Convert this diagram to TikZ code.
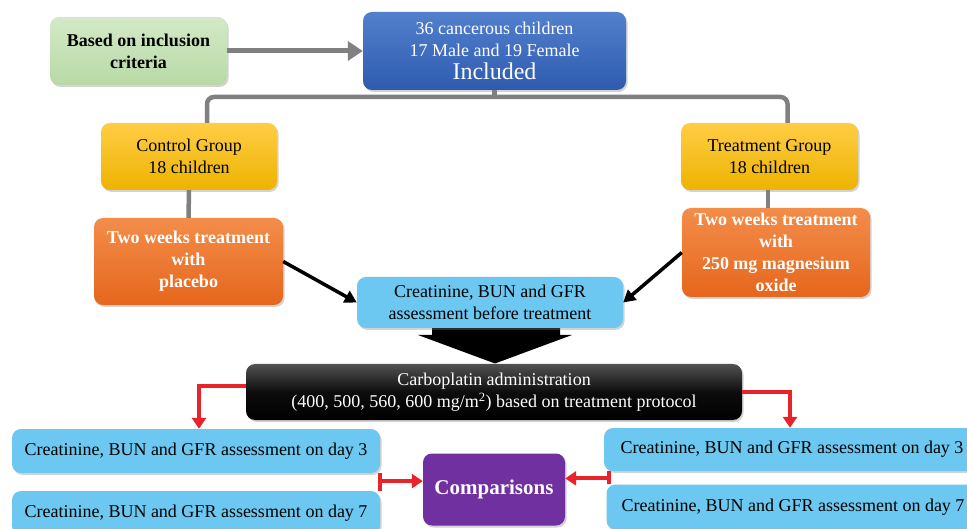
\documentclass[tikz,border=0pt]{standalone}
\usepackage{fontspec}
\setmainfont{Liberation Serif}
\usetikzlibrary{shadows,arrows.meta,calc}
\definecolor{grn1}{HTML}{D3E9C8}
\definecolor{grn2}{HTML}{B8DAA6}
\definecolor{blu1}{HTML}{5280CC}
\definecolor{blu2}{HTML}{2E5BAF}
\definecolor{gld1}{HTML}{FFCD45}
\definecolor{gld2}{HTML}{EDB300}
\definecolor{org1}{HTML}{F38D4A}
\definecolor{org2}{HTML}{E6661C}
\definecolor{lblu}{HTML}{6CC8F0}
\definecolor{purp}{HTML}{7030A0}
\definecolor{redc}{HTML}{E8232A}
\definecolor{gryc}{HTML}{808080}
\tikzset{
  box/.style={rounded corners=9pt, inner sep=0pt, align=center,
    drop shadow={shadow xshift=1.5pt,shadow yshift=-2pt,opacity=.35},
    font=\fontsize{18}{22}\selectfont},
  greenbox/.style={box, top color=grn1, bottom color=grn2, text=black, font=\fontsize{18}{22}\selectfont\bfseries},
  bluebox/.style={box, top color=blu1, bottom color=blu2, text=white},
  goldbox/.style={box, top color=gld1, bottom color=gld2, text=black},
  orangebox/.style={box, top color=org1, bottom color=org2, text=white, font=\fontsize{18}{22}\selectfont\bfseries},
  lbbox/.style={box, fill=lblu, text=black},
  blackbox/.style={box, top color=black!68, bottom color=black, middle color=black!95, text=white},
  purplebox/.style={box, fill=purp, text=white, font=\fontsize{21}{24}\selectfont\bfseries},
  graylink/.style={draw=gryc, line width=4.5pt},
  grayarrow/.style={draw=gryc, line width=5pt, -{Triangle[length=15pt,width=19pt]}},
  blackarrow/.style={draw=black, line width=3.5pt, -{Triangle[length=12pt,width=13pt]}},
  redlink/.style={draw=redc, line width=4pt},
  redarrow/.style={draw=redc, line width=4pt, -{Triangle[length=11pt,width=14pt]}},
}
\begin{document}
\begin{tikzpicture}[x=1pt,y=-1pt]
\useasboundingbox (0,0) rectangle (967,529);
\clip (0,0) rectangle (967,529);
% funnel arrow
\fill[black] (432,326) -- (560,326) -- (560,335) -- (572,335) -- (495,363.5) -- (418,335) -- (432,335) -- cycle;
% nodes
\node[greenbox, minimum width=177pt, minimum height=68pt] (incl) at (138.5,51) {Based on inclusion\\criteria};
\node[bluebox, minimum width=263pt, minimum height=78pt] (all) at (494.5,51) {36 cancerous children\\17 Male and 19 Female\\[1pt]{\fontsize{24}{26}\selectfont Included}};
\node[goldbox, minimum width=176pt, minimum height=67pt] (ctrl) at (189,156.5) {Control Group\\18 children};
\node[goldbox, minimum width=177pt, minimum height=67pt] (treat) at (769.5,156.5) {Treatment Group\\18 children};
\node[orangebox, minimum width=189pt, minimum height=87pt] (plac) at (188.5,261.5) {Two weeks treatment\\with\\placebo};
\node[orangebox, minimum width=188pt, minimum height=89pt] (mgo) at (776,252.5) {Two weeks treatment\\with\\250 mg magnesium\\oxide};
\node[lbbox, minimum width=266pt, minimum height=51pt] (before) at (490,302.5) {Creatinine, BUN and GFR\\assessment before treatment};
\node[blackbox, minimum width=496pt, minimum height=56pt] (carbo) at (494,392) {Carboplatin administration\\(400, 500, 560, 600 mg/m\textsuperscript{2}) based on treatment protocol};
\node[lbbox, minimum width=368pt, minimum height=44pt] (d3L) at (196,451) {Creatinine, BUN and GFR assessment on day 3};
\node[lbbox, minimum width=368pt, minimum height=44pt] (d7L) at (196,513) {Creatinine, BUN and GFR assessment on day 7};
\node[lbbox, minimum width=376pt, minimum height=43pt] (d3R) at (792,449.5) {Creatinine, BUN and GFR assessment on day 3};
\node[lbbox, minimum width=373pt, minimum height=45pt] (d7R) at (793,507) {Creatinine, BUN and GFR assessment on day 7};
\node[purplebox, minimum width=142pt, minimum height=72pt] (comp) at (494,489.5) {Comparisons};
% connectors
\draw[grayarrow] (incl.east) -- (all.west);
\coordinate (brk) at (all.south |- 0,97);
\draw[graylink, rounded corners=7pt] ([xshift=18pt]ctrl.north) |- (brk) -| ([xshift=18pt]treat.north);
\draw[graylink] (all.south) -- (brk);
\draw[graylink] (ctrl.south) -- (plac.north);
\draw[graylink] ([xshift=-1.5pt]treat.south) -- ([xshift=-1.5pt]treat.south |- mgo.north);
\draw[blackarrow] (plac.east) -- (before.west);
\draw[blackarrow] (mgo.west) -- (before.east);
\draw[redarrow] ([yshift=6pt]carbo.west) -| ([xshift=3pt]d3L.north);
\draw[redarrow] (carbo.east) -| ([xshift=-2pt]d3R.north);
\coordinate (lj) at ($(d3L.south east)!0.45!(d7L.north east)$);
\draw[redlink] (d3L.south east) -- (d7L.north east);
\draw[redarrow] (lj) -- (comp.west |- lj);
\coordinate (rt) at ([xshift=5pt]d3R.south west);
\coordinate (rb) at (rt |- d7R.north);
\coordinate (rj) at ($(rt)!0.55!(rb)$);
\draw[redlink] (rt) -- (rb);
\draw[redarrow] (rj) -- (comp.east |- rj);
\end{tikzpicture}
\end{document}
